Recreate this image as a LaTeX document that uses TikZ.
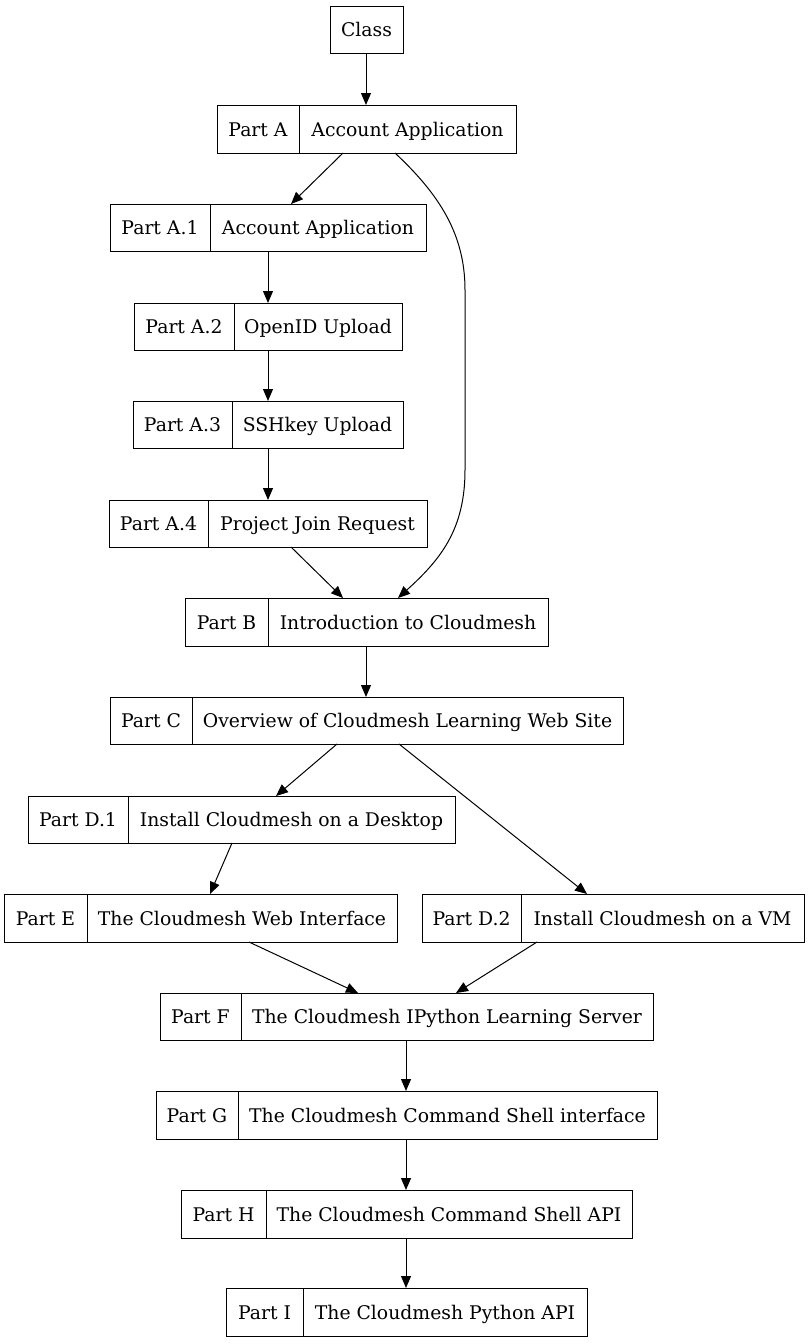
\documentclass[tikz,border=0pt]{standalone}
\usepackage{fontspec}
\setmainfont{DejaVu Serif}
\usetikzlibrary{arrows.meta}
\tikzset{
  rec/.style={draw, line width=1pt, inner sep=0pt, outer sep=0pt, anchor=north west},
  lbl/.style={inner sep=0pt, anchor=base, font=\fontsize{18.8}{23}\selectfont},
  edge/.style={line width=1pt, -{Triangle[length=12pt,width=10pt]}},
}
\newcommand\myrec[8]{%
  \node[rec, minimum width={(#4-#2)*1pt}, minimum height={(#6-#5)*1pt}] (#1) at (#2,#5) {};
  \draw[line width=1pt] (#3,#5) -- (#3,#6);
  \node[lbl] (#1l) at ({(#2+#3)/2},{(#5+#6)/2+7}) {#7};
  \node[lbl] (#1r) at ({(#3+#4)/2},{(#5+#6)/2+7}) {#8};
}
\begin{document}
\begin{tikzpicture}[x=1pt,y=-1pt]
\useasboundingbox (0,0) rectangle (809,1344);
\node[rec, minimum width=73pt, minimum height=47pt] (cls) at (330,6) {};
\node[lbl] (clsl) at (366.5,36.5) {Class};
\myrec{A}{217}{299}{516}{105}{153}{Part A}{Account Application}
\myrec{Aa}{110}{210}{426}{204}{251}{Part A.1}{Account Application}
\myrec{Ab}{134}{234}{402}{303}{350}{Part A.2}{OpenID Upload}
\myrec{Ac}{133}{232}{403}{401}{448}{Part A.3}{SSHkey Upload}
\myrec{Ad}{109}{208}{427}{500}{547}{Part A.4}{Project Join Request}
\myrec{B}{185}{268}{548}{598}{646}{Part B}{Introduction to Cloudmesh}
\myrec{C}{110}{192}{623}{697}{744}{Part C}{Overview of Cloudmesh Learning Web Site}
\myrec{Da}{28}{128}{455}{796}{843}{Part D.1}{Install Cloudmesh on a Desktop}
\myrec{E}{4}{87}{397}{894}{942}{Part E}{The Cloudmesh Web Interface}
\myrec{Db}{422}{521}{804}{894}{942}{Part D.2}{Install Cloudmesh on a VM}
\myrec{F}{160}{241}{653}{993}{1040}{Part F}{The Cloudmesh IPython Learning Server}
\myrec{G}{156}{238}{657}{1091}{1139}{Part G}{The Cloudmesh Command Shell interface}
\myrec{H}{181}{266}{632}{1190}{1238}{Part H}{The Cloudmesh Command Shell API}
\myrec{I}{226}{303}{587}{1288}{1336}{Part I}{The Cloudmesh Python API}

\draw[edge] (cls.south -| 366,0) -- (A.north -| 366,0);
\draw[edge] (A.south -| 343,0) -- (Aa.north -| 291,0);
\draw[edge] (A.south -| 395,0) .. controls (440,195) and (465,235) .. (465,290) -- (465,470) .. controls (465,530) and (440,560) .. (B.north -| 398,0);
\draw[edge] (Aa.south -| 268,0) -- (Ab.north -| 268,0);
\draw[edge] (Ab.south -| 268,0) -- (Ac.north -| 268,0);
\draw[edge] (Ac.south -| 268,0) -- (Ad.north -| 268,0);
\draw[edge] (Ad.south -| 291,0) -- (B.north -| 343,0);
\draw[edge] (B.south -| 366,0) -- (C.north -| 366,0);
\draw[edge] (C.south -| 337,0) -- (Da.north -| 276,0);
\draw[edge] (C.south -| 399,0) -- (Db.north -| 587,0);
\draw[edge] (Da.south -| 232,0) -- (E.north -| 210,0);
\draw[edge] (E.south -| 249,0) -- (F.north -| 358,0);
\draw[edge] (Db.south -| 537,0) -- (F.north -| 456,0);
\draw[edge] (F.south -| 406,0) -- (G.north -| 406,0);
\draw[edge] (G.south -| 406,0) -- (H.north -| 406,0);
\draw[edge] (H.south -| 406,0) -- (I.north -| 406,0);
\end{tikzpicture}
\end{document}
